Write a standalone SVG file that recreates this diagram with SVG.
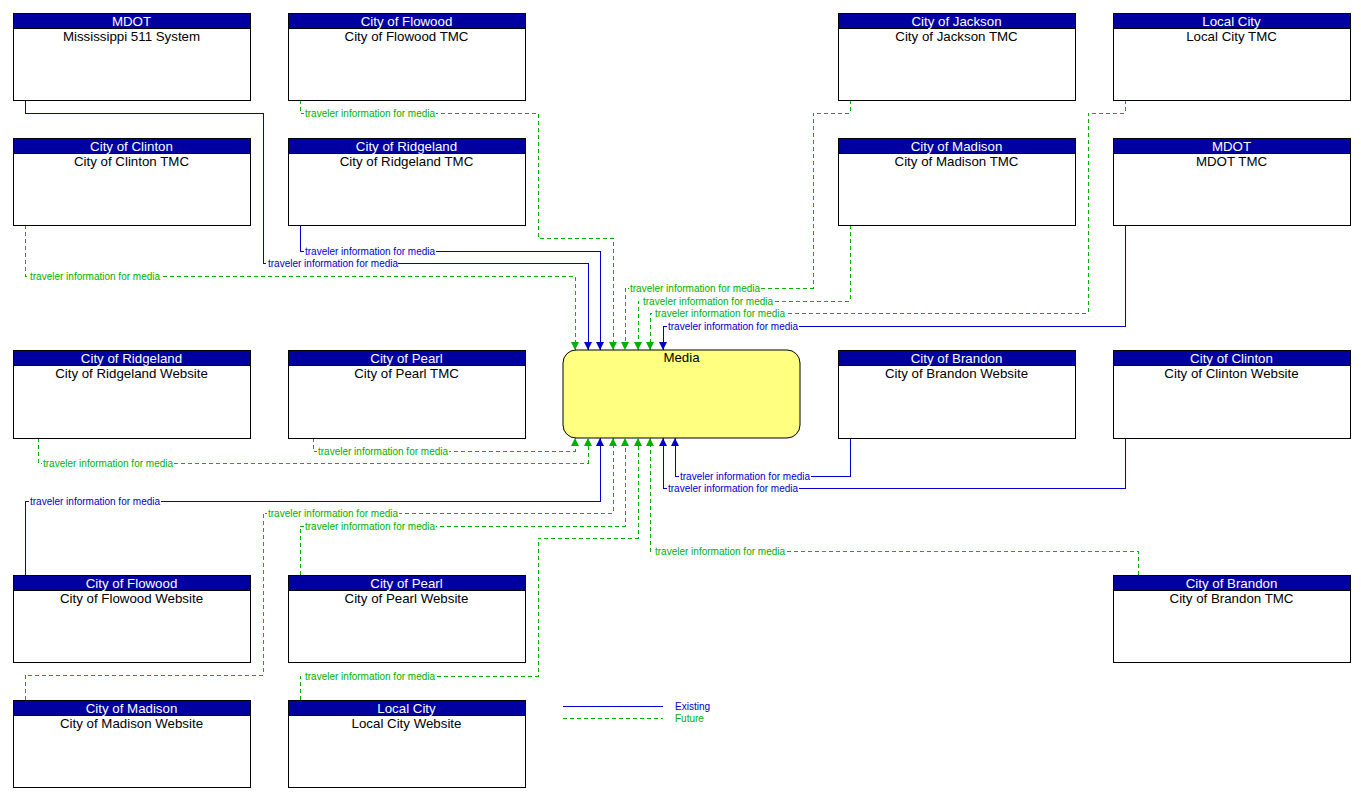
<svg xmlns="http://www.w3.org/2000/svg" width="1361" height="801" viewBox="0 0 1361 801">
<style>
.box{fill:#fff;stroke:#000;stroke-width:1;shape-rendering:crispEdges}
.hdr{fill:#0000A0;stroke:#000;stroke-width:1;shape-rendering:crispEdges}
.ht{font-family:"Liberation Sans",Arial,sans-serif;font-size:13.3px;fill:#fff;text-anchor:middle}
.bt{font-family:"Liberation Sans",Arial,sans-serif;font-size:13.3px;fill:#000;text-anchor:middle}
.ex{fill:none;stroke:#0000CC;stroke-width:1;shape-rendering:crispEdges}
.fu{fill:none;stroke:#00B000;stroke-width:1;stroke-dasharray:4,3;shape-rendering:crispEdges}
.lb{font-family:"Liberation Sans",Arial,sans-serif;font-size:10px}
.lbe{fill:#0000CC}
.lbf{fill:#00B000}
.bg{fill:#fff}
</style>
<defs>
<marker id="ab" markerUnits="userSpaceOnUse" markerWidth="8" markerHeight="8" refX="8" refY="4" orient="auto"><path d="M0,0 L8,4 L0,8 z" fill="#0000CC"/></marker>
<marker id="ag" markerUnits="userSpaceOnUse" markerWidth="8" markerHeight="8" refX="8" refY="4" orient="auto"><path d="M0,0 L8,4 L0,8 z" fill="#00B000"/></marker>
</defs>
<rect width="1361" height="801" fill="#fff"/>

<g id="connectors">
<path class="fu" marker-end="url(#ag)" d="M25,225 V276 H575 V350"/>
<path class="ex" marker-end="url(#ab)" d="M25,100 V113 H263 V263 H588 V350"/>
<path class="ex" marker-end="url(#ab)" d="M300,225 V251 H600 V350"/>
<path class="fu" marker-end="url(#ag)" d="M300,100 V113 H538 V238 H613 V350"/>
<path class="fu" marker-end="url(#ag)" d="M850,100 V113 H813 V288 H625 V350"/>
<path class="fu" marker-end="url(#ag)" d="M850,225 V301 H638 V350"/>
<path class="fu" marker-end="url(#ag)" d="M1125,100 V113 H1088 V313 H650 V350"/>
<path class="ex" marker-end="url(#ab)" d="M1125,225 V326 H663 V350"/>
<path class="fu" marker-end="url(#ag)" d="M313,438 V451 H575 V438"/>
<path class="fu" marker-end="url(#ag)" d="M38,438 V463 H588 V438"/>
<path class="ex" marker-end="url(#ab)" d="M25,575 V501 H600 V438"/>
<path class="fu" marker-end="url(#ag)" d="M25,700 V675 H263 V513 H613 V438"/>
<path class="fu" marker-end="url(#ag)" d="M300,575 V526 H625 V438"/>
<path class="fu" marker-end="url(#ag)" d="M300,700 V676 H538 V538 H638 V438"/>
<path class="fu" marker-end="url(#ag)" d="M1138,575 V551 H650 V438"/>
<path class="ex" marker-end="url(#ab)" d="M1125,438 V488 H663 V438"/>
<path class="ex" marker-end="url(#ab)" d="M850,438 V476 H675 V438"/>

<g class="lb">
<rect class="bg" x="29" y="271" width="132" height="10"/><text class="lbf" x="30" y="279.5">traveler information for media</text>
<rect class="bg" x="266" y="258" width="132" height="10"/><text class="lbe" x="268" y="266.5">traveler information for media</text>
<rect class="bg" x="304" y="246" width="132" height="10"/><text class="lbe" x="305" y="254.5">traveler information for media</text>
<rect class="bg" x="304" y="108" width="132" height="10"/><text class="lbf" x="305" y="116.5">traveler information for media</text>
<rect class="bg" x="629" y="283" width="132" height="10"/><text class="lbf" x="630" y="291.5">traveler information for media</text>
<rect class="bg" x="642" y="296" width="132" height="10"/><text class="lbf" x="643" y="304.5">traveler information for media</text>
<rect class="bg" x="654" y="308" width="132" height="10"/><text class="lbf" x="655" y="316.5">traveler information for media</text>
<rect class="bg" x="667" y="321" width="132" height="10"/><text class="lbe" x="668" y="329.5">traveler information for media</text>
<rect class="bg" x="317" y="446" width="132" height="10"/><text class="lbf" x="318" y="454.5">traveler information for media</text>
<rect class="bg" x="42" y="458" width="132" height="10"/><text class="lbf" x="43" y="466.5">traveler information for media</text>
<rect class="bg" x="29" y="496" width="132" height="10"/><text class="lbe" x="30" y="504.5">traveler information for media</text>
<rect class="bg" x="267" y="508" width="132" height="10"/><text class="lbf" x="268" y="516.5">traveler information for media</text>
<rect class="bg" x="304" y="521" width="132" height="10"/><text class="lbf" x="305" y="529.5">traveler information for media</text>
<rect class="bg" x="304" y="671" width="132" height="10"/><text class="lbf" x="305" y="679.5">traveler information for media</text>
<rect class="bg" x="654" y="546" width="132" height="10"/><text class="lbf" x="655" y="554.5">traveler information for media</text>
<rect class="bg" x="667" y="483" width="132" height="10"/><text class="lbe" x="668" y="491.5">traveler information for media</text>
<rect class="bg" x="679" y="471" width="132" height="10"/><text class="lbe" x="680" y="479.5">traveler information for media</text>
</g>
</g>

<g id="media"><rect x="563" y="350" width="237" height="88" rx="13" ry="13" fill="#FFFF80" stroke="#000"/><text class="bt" x="681.5" y="362">Media</text></g>

<g id="n-ms511"><rect class="box" x="13" y="13" width="237" height="87"/><rect class="hdr" x="13" y="13" width="237" height="15"/><text class="ht" x="131.5" y="25.5">MDOT</text><text class="bt" x="131.5" y="41">Mississippi 511 System</text></g>
<g id="n-flowood-tmc"><rect class="box" x="288" y="13" width="237" height="87"/><rect class="hdr" x="288" y="13" width="237" height="15"/><text class="ht" x="406.5" y="25.5">City of Flowood</text><text class="bt" x="406.5" y="41">City of Flowood TMC</text></g>
<g id="n-jackson-tmc"><rect class="box" x="838" y="13" width="237" height="87"/><rect class="hdr" x="838" y="13" width="237" height="15"/><text class="ht" x="956.5" y="25.5">City of Jackson</text><text class="bt" x="956.5" y="41">City of Jackson TMC</text></g>
<g id="n-localcity-tmc"><rect class="box" x="1113" y="13" width="237" height="87"/><rect class="hdr" x="1113" y="13" width="237" height="15"/><text class="ht" x="1231.5" y="25.5">Local City</text><text class="bt" x="1231.5" y="41">Local City TMC</text></g>

<g id="n-clinton-tmc"><rect class="box" x="13" y="138" width="237" height="87"/><rect class="hdr" x="13" y="138" width="237" height="15"/><text class="ht" x="131.5" y="150.5">City of Clinton</text><text class="bt" x="131.5" y="166">City of Clinton TMC</text></g>
<g id="n-ridgeland-tmc"><rect class="box" x="288" y="138" width="237" height="87"/><rect class="hdr" x="288" y="138" width="237" height="15"/><text class="ht" x="406.5" y="150.5">City of Ridgeland</text><text class="bt" x="406.5" y="166">City of Ridgeland TMC</text></g>
<g id="n-madison-tmc"><rect class="box" x="838" y="138" width="237" height="87"/><rect class="hdr" x="838" y="138" width="237" height="15"/><text class="ht" x="956.5" y="150.5">City of Madison</text><text class="bt" x="956.5" y="166">City of Madison TMC</text></g>
<g id="n-mdot-tmc"><rect class="box" x="1113" y="138" width="237" height="87"/><rect class="hdr" x="1113" y="138" width="237" height="15"/><text class="ht" x="1231.5" y="150.5">MDOT</text><text class="bt" x="1231.5" y="166">MDOT TMC</text></g>

<g id="n-ridgeland-web"><rect class="box" x="13" y="350" width="237" height="88"/><rect class="hdr" x="13" y="350" width="237" height="15"/><text class="ht" x="131.5" y="362.5">City of Ridgeland</text><text class="bt" x="131.5" y="378">City of Ridgeland Website</text></g>
<g id="n-pearl-tmc"><rect class="box" x="288" y="350" width="237" height="88"/><rect class="hdr" x="288" y="350" width="237" height="15"/><text class="ht" x="406.5" y="362.5">City of Pearl</text><text class="bt" x="406.5" y="378">City of Pearl TMC</text></g>
<g id="n-brandon-web"><rect class="box" x="838" y="350" width="237" height="88"/><rect class="hdr" x="838" y="350" width="237" height="15"/><text class="ht" x="956.5" y="362.5">City of Brandon</text><text class="bt" x="956.5" y="378">City of Brandon Website</text></g>
<g id="n-clinton-web"><rect class="box" x="1113" y="350" width="237" height="88"/><rect class="hdr" x="1113" y="350" width="237" height="15"/><text class="ht" x="1231.5" y="362.5">City of Clinton</text><text class="bt" x="1231.5" y="378">City of Clinton Website</text></g>

<g id="n-flowood-web"><rect class="box" x="13" y="575" width="237" height="87"/><rect class="hdr" x="13" y="575" width="237" height="15"/><text class="ht" x="131.5" y="587.5">City of Flowood</text><text class="bt" x="131.5" y="603">City of Flowood Website</text></g>
<g id="n-pearl-web"><rect class="box" x="288" y="575" width="237" height="87"/><rect class="hdr" x="288" y="575" width="237" height="15"/><text class="ht" x="406.5" y="587.5">City of Pearl</text><text class="bt" x="406.5" y="603">City of Pearl Website</text></g>
<g id="n-brandon-tmc"><rect class="box" x="1113" y="575" width="237" height="87"/><rect class="hdr" x="1113" y="575" width="237" height="15"/><text class="ht" x="1231.5" y="587.5">City of Brandon</text><text class="bt" x="1231.5" y="603">City of Brandon TMC</text></g>

<g id="n-madison-web"><rect class="box" x="13" y="700" width="237" height="87"/><rect class="hdr" x="13" y="700" width="237" height="15"/><text class="ht" x="131.5" y="712.5">City of Madison</text><text class="bt" x="131.5" y="728">City of Madison Website</text></g>
<g id="n-localcity-web"><rect class="box" x="288" y="700" width="237" height="87"/><rect class="hdr" x="288" y="700" width="237" height="15"/><text class="ht" x="406.5" y="712.5">Local City</text><text class="bt" x="406.5" y="728">Local City Website</text></g>

<g id="legend">
<line class="ex" x1="563" y1="706" x2="663" y2="706"/>
<line class="fu" x1="563" y1="718" x2="663" y2="718"/>
<text class="lb lbe" x="675" y="709.5">Existing</text>
<text class="lb lbf" x="675" y="721.5">Future</text>
</g>
</svg>
